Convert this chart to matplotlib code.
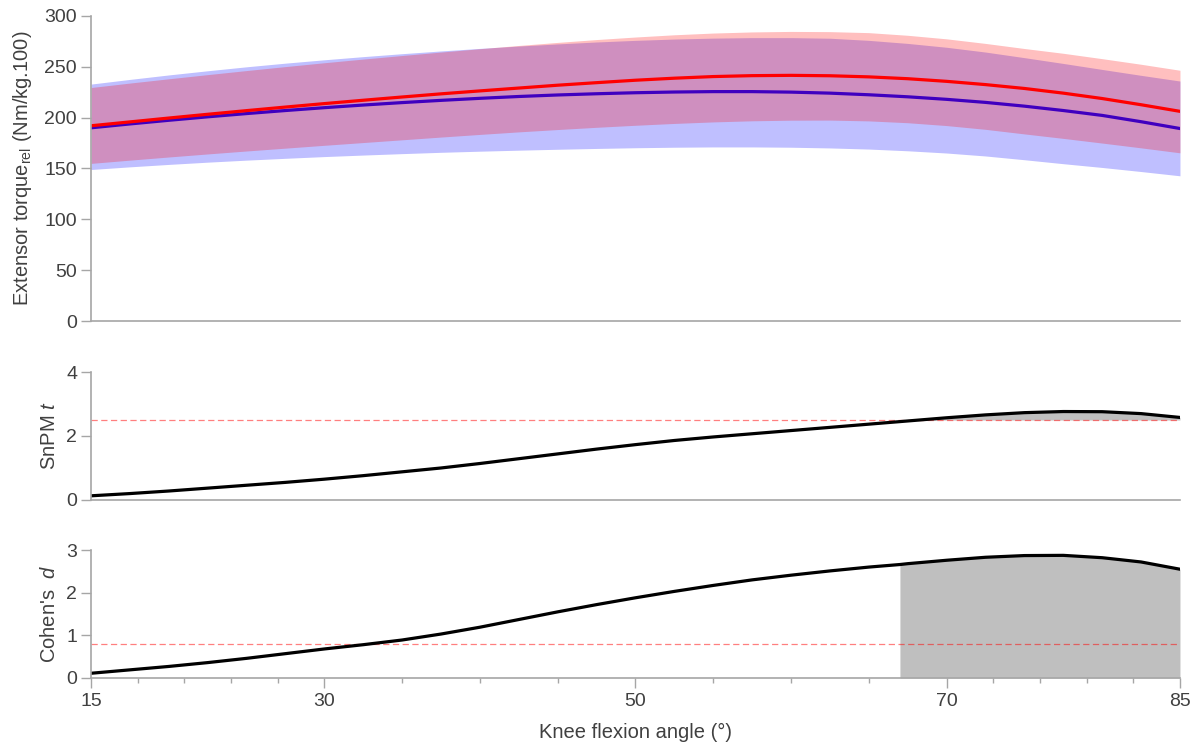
import numpy as np
import matplotlib
matplotlib.use('Agg')
from matplotlib import pyplot as plt

plt.rcParams['font.family'] = ['Liberation Sans', 'DejaVu Sans']
plt.rcParams['mathtext.fontset'] = 'custom'
plt.rcParams['mathtext.rm'] = 'Liberation Sans'
plt.rcParams['mathtext.it'] = 'Liberation Sans:italic'
plt.rcParams['lines.scale_dashes'] = False

# knee flexion angle (deg), every 2.5 deg
angle = [15, 17.5, 20, 22.5, 25, 27.5, 30, 32.5, 35, 37.5, 40, 42.5, 45, 47.5, 50,
         52.5, 55, 57.5, 60, 62.5, 65, 67.5, 70, 72.5, 75, 77.5, 80, 82.5, 85]

# extensor torque, group 1 (red): mean, mean+sd, mean-sd
red_mean = [192, 195.8, 199.6, 203.3, 206.9, 210.4, 213.8, 217.1, 220.3, 223.4, 226.3, 229.1, 231.9, 234.4, 236.8,
            238.8, 240.4, 241.3, 241.6, 241.2, 240.1, 238.3, 235.7, 232.5, 228.7, 224.1, 218.8, 212.7, 206.2]
red_up = [229.6, 234, 238.2, 242.3, 246.3, 250.2, 254, 257.6, 261.1, 264.5, 267.8, 271, 274, 276.8, 279.3,
          281.5, 283.2, 284.3, 284.8, 284.6, 283.6, 281, 277.5, 273, 268, 263.3, 258, 252.5, 246.6]
red_lo = [155, 158.2, 161.3, 164.3, 167.2, 170, 172.8, 175.5, 178.2, 180.9, 183.5, 186, 188.3, 190.5, 192.5,
          194.3, 195.8, 196.9, 197.5, 197.6, 196.8, 195, 192.2, 188.5, 184, 179.6, 175, 170.3, 165.4]

# extensor torque, group 2 (blue): mean, mean+sd, mean-sd
blue_mean = [190, 193.8, 197.4, 200.8, 204, 207, 209.8, 212.4, 214.8, 217, 219, 220.8, 222.3, 223.5, 224.5,
             225.2, 225.6, 225.6, 225.1, 224.1, 222.5, 220.5, 218, 215, 211.3, 207, 202.2, 196, 189.3]
blue_up = [233, 237.6, 242, 246.1, 250, 253.6, 256.9, 260, 262.9, 265.6, 268.1, 270.4, 272.5, 274.4, 276,
           277.3, 278.2, 278.7, 278.7, 278.1, 276, 273, 269.2, 264.5, 259, 253.3, 247.4, 241.6, 236]
blue_lo = [149, 151.6, 154, 156.2, 158.2, 160, 161.7, 163.2, 164.6, 165.9, 167, 168, 168.9, 169.7, 170.4,
           170.9, 171.2, 171.2, 170.9, 170.2, 169.1, 167.4, 165.2, 162.3, 158.6, 154.7, 151, 147, 142.8]

# SnPM t statistic and critical threshold
snpm_t = [0.13, 0.2, 0.28, 0.37, 0.46, 0.55, 0.65, 0.76, 0.88, 1.0, 1.14, 1.29, 1.44, 1.59, 1.73,
          1.86, 1.97, 2.07, 2.17, 2.27, 2.37, 2.47, 2.57, 2.66, 2.73, 2.765, 2.76, 2.70, 2.58]
t_crit = 2.5

# Cohen's d effect size (extra point at 67 deg where the cluster starts)
d_angle = [15, 17.5, 20, 22.5, 25, 27.5, 30, 32.5, 35, 37.5, 40, 42.5, 45, 47.5, 50,
           52.5, 55, 57.5, 60, 62.5, 65, 67, 67.5, 70, 72.5, 75, 77.5, 80, 82.5, 85]
cohen_d = [0.11, 0.19, 0.27, 0.36, 0.46, 0.57, 0.68, 0.78, 0.89, 1.03, 1.19, 1.37, 1.55, 1.72, 1.88,
           2.03, 2.17, 2.3, 2.41, 2.51, 2.6, 2.66, 2.68, 2.76, 2.83, 2.87, 2.875, 2.82, 2.72, 2.55]
d_thr = 0.8
d_sig_start = 67

major_ticks = [15, 30, 50, 70, 85]
minor_ticks = [18, 21, 24, 27, 35, 40, 45, 55, 60, 65, 73, 76, 79, 82]

spine_col = '#a6a6a6'
text_col = '#404040'

fig = plt.figure(figsize=(11.92, 7.46), dpi=100)
ax1 = fig.add_axes([0.0763, 0.5697, 0.9136, 0.4089])
ax2 = fig.add_axes([0.0763, 0.3298, 0.9136, 0.1715])
ax3 = fig.add_axes([0.0763, 0.0912, 0.9136, 0.1715])

for ax in [ax1, ax2, ax3]:
    ax.spines['top'].set_visible(False)
    ax.spines['right'].set_visible(False)
    ax.spines['left'].set_color(spine_col)
    ax.spines['bottom'].set_color(spine_col)
    ax.spines['left'].set_linewidth(1.2)
    ax.spines['bottom'].set_linewidth(1.2)
    ax.set_xlim(15, 85)
    ax.tick_params(axis='y', direction='out', length=7, width=1, color=spine_col,
                   labelcolor=text_col, labelsize=14, pad=3)
    ax.tick_params(axis='x', which='both', bottom=False, labelbottom=False)

# top panel
ax1.fill_between(angle, blue_lo, blue_up, color='blue', alpha=0.25, lw=0, zorder=2)
ax1.plot(angle, blue_mean, color='blue', lw=2.3, zorder=2)
ax1.fill_between(angle, red_lo, red_up, color='red', alpha=0.25, lw=0, zorder=2)
ax1.plot(angle, red_mean, color='red', lw=2.3, zorder=2)
ax1.set_ylim(0, 300)
ax1.set_yticks([0, 50, 100, 150, 200, 250, 300])
ax1.set_ylabel(r'Extensor torque$_{\mathrm{rel}}$ (Nm/kg.100)', fontsize=14.5, color=text_col)
ax1.yaxis.set_label_coords(-0.052, 0.5)

# middle panel
snpm_arr = np.array(snpm_t)
ax2.fill_between(angle, t_crit, snpm_arr, where=snpm_arr >= t_crit, interpolate=True,
                 color='#bfbfbf', lw=0)
ax2.axhline(t_crit, color='red', alpha=0.5, lw=0.9, dashes=(4.5, 2.5))
ax2.plot(angle, snpm_t, color='black', lw=2.3)
ax2.set_ylim(0, 4)
ax2.set_yticks([0, 2, 4])
ax2.set_ylabel(r'SnPM $t$', fontsize=14.5, color=text_col)
ax2.yaxis.set_label_coords(-0.029, 0.5)

# bottom panel
d_angle_arr = np.array(d_angle)
ax3.fill_between(d_angle, 0, cohen_d, where=d_angle_arr >= d_sig_start,
                 color='#bfbfbf', lw=0)
ax3.axhline(d_thr, color='red', alpha=0.5, lw=0.9, dashes=(4.5, 2.5))
ax3.plot(d_angle, cohen_d, color='black', lw=2.3)
ax3.set_ylim(0, 3)
ax3.set_yticks([0, 1, 2, 3])
ax3.set_ylabel(r"Cohen's  $d$", fontsize=14.5, color=text_col)
ax3.yaxis.set_label_coords(-0.029, 0.5)
ax3.set_xticks(major_ticks)
ax3.set_xticks(minor_ticks, minor=True)
ax3.tick_params(axis='x', which='major', bottom=True, labelbottom=True, direction='out',
                length=7, width=1, color=spine_col, labelcolor=text_col, labelsize=14, pad=4)
ax3.tick_params(axis='x', which='minor', bottom=True, direction='out',
                length=3.5, width=1, color=spine_col)
ax3.set_xlabel('Knee flexion angle (°)', fontsize=14.5, color=text_col, labelpad=9)

fig.savefig('out.png', dpi=100)
